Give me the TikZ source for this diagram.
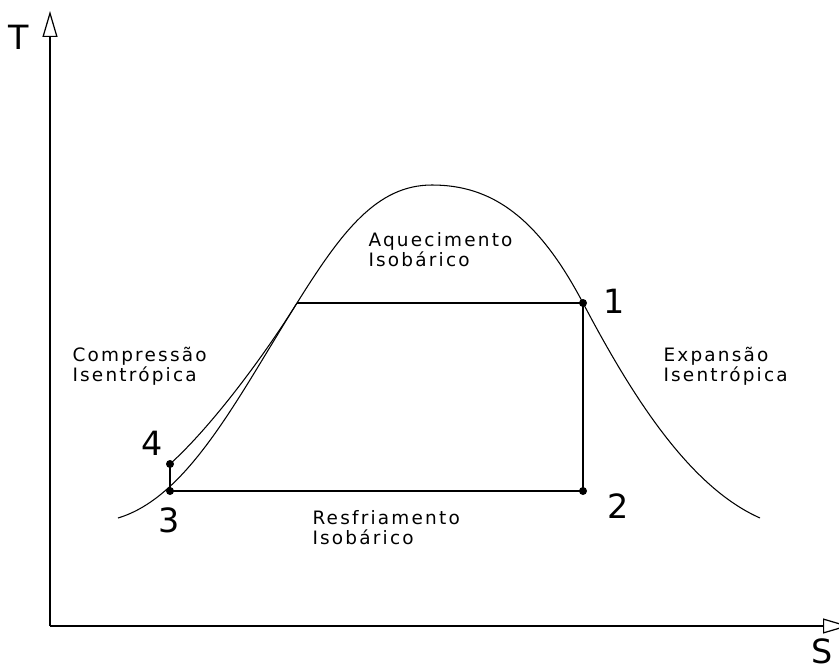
\documentclass[tikz,border=0pt]{standalone}
\usepackage{fontspec}
\setmainfont{DejaVu Sans}
\usetikzlibrary{arrows.meta, positioning}

\begin{document}
\begin{tikzpicture}[x=0.02cm, y=-0.02cm, line width=0.6pt, >={Triangle[open, length=0.52cm, width=0.3cm]}]

    % Styles for state points and labels
    \tikzset{
        statept/.style={circle, fill, inner sep=0pt, minimum size=0.16cm},
        ptlabel/.style={inner sep=0pt, font=\fontsize{19}{19}\selectfont},
        proclabel/.style={anchor=north west, inner sep=0pt, align=left,
            font=\fontsize{10.5}{11.4}\selectfont\addfontfeature{LetterSpace=12}}
    }
    \useasboundingbox (0,0) rectangle (839,670);

    % ==========================================
    % Axes
    % ==========================================
    \coordinate (O) at (50,626);
    \coordinate (Ttip) at (50,11);
    \coordinate (Stip) at (849,626);
    \draw[->, line width=0.7pt] (O) -- (Ttip);
    \draw[->, line width=0.7pt] (O) -- (Stip);
    \node[ptlabel] (Tlab) at (19,37) {T};
    \node[ptlabel] (Slab) at (822,651) {S};

    % ==========================================
    % Saturation dome
    % ==========================================
    \coordinate (dL) at (118,518);
    \coordinate (pA) at (297,303);
    \coordinate (top) at (432,185);
    \coordinate (dR) at (760,518);

    % State points
    \node[statept] (n1) at (583,303) {};
    \node[statept] (n2) at (583,491) {};
    \node[statept] (n3) at (170,491) {};
    \node[statept] (n4) at (170,464) {};

    \draw (dL) .. controls (188,497) and (237,399) .. (pA)
               .. controls (342,231) and (377,185) .. (top)
               .. controls (492,185) and (538,217.5) .. (n1.center)
               .. controls (633,398) and (690,487) .. (dR);

    % Cycle
    \draw (pA) -- (n1.center) -- (n2.center) -- (n3.center) -- (n4.center);
    \draw (n4.center) .. controls (210,428) and (262,359) .. (pA);

    % Point numbers
    \node[ptlabel] (l1) at (614,301) {1};
    \node[ptlabel] (l2) at (618,506) {2};
    \node[ptlabel] (l3) at (169,520) {3};
    \node[ptlabel] (l4) at (152,443) {4};

    % Process labels
    \node[proclabel] (heat) at (368,232) {Aquecimento\\Isobárico};
    \node[proclabel] (cool) at (312,510) {Resfriamento\\Isobárico};
    \node[proclabel] (comp) at (72,347) {Compressão\\Isentrópica};
    \node[proclabel] (expn) at (663,347) {Expansão\\Isentrópica};

\end{tikzpicture}
\end{document}
